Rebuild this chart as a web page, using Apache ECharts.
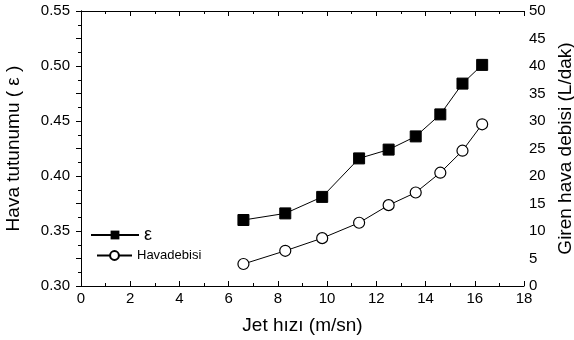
<!DOCTYPE html>
<html>
<head>
<meta charset="utf-8">
<script src="https://cdn.jsdelivr.net/npm/echarts@6/dist/echarts.min.js"></script>
<style>
  html, body { margin: 0; padding: 0; background: #fff; }
  #chart { width: 574px; height: 340px; }
</style>
</head>
<body>
<div id="chart"></div>
<script>
// jet hizi (m/sn)
const jetSpeed = [6.6, 8.3, 9.8, 11.3, 12.5, 13.6, 14.6, 15.5, 16.3];
// hava tutunumu (epsilon), left axis
const epsilon = [0.360, 0.366, 0.381, 0.416, 0.424, 0.436, 0.456, 0.484, 0.501];
// giren hava debisi (L/dak), right axis
const airFlow = [4.0, 6.4, 8.7, 11.5, 14.7, 17.0, 20.6, 24.6, 29.4];

const font = 'Liberation Sans, Arial, sans-serif';
const pair = (xs, ys) => xs.map((x, i) => [x, ys[i]]);

const chart = echarts.init(document.getElementById('chart'));
const axisLine = { lineStyle: { color: '#000', width: 1 } };
const nameStyle = { fontFamily: font, fontSize: 19, color: '#000' };
const labelStyle = { fontFamily: font, fontSize: 15, color: '#000' };

chart.setOption({
  animation: false,
  grid: { left: 81, right: 50, top: 11, bottom: 54, containLabel: false, outerBoundsMode: 'none' },
  legend: [
    {
      data: ['ε'], left: 85, top: 221, itemWidth: 48, itemHeight: 11, itemGap: 4,
      textStyle: { fontFamily: font, fontSize: 18, color: '#000' }
    },
    {
      data: ['Havadebisi'], left: 91, top: 244, itemWidth: 35, itemHeight: 11, itemGap: 4,
      textStyle: { fontFamily: font, fontSize: 13, color: '#000' }
    }
  ],
  xAxis: [
    {
      type: 'value', min: 0, max: 18, interval: 2,
      name: 'Jet hızı (m/sn)', nameLocation: 'middle', nameGap: 30,
      nameTextStyle: nameStyle,
      axisLine: axisLine,
      axisTick: { inside: true, length: 5, lineStyle: { color: '#000' } },
      minorTick: { show: true, splitNumber: 2, length: 3, lineStyle: { color: '#000' } },
      axisLabel: Object.assign({ margin: 5 }, labelStyle),
      splitLine: { show: false }
    },
    {
      type: 'value', min: 0, max: 18, interval: 2, position: 'top',
      axisLine: axisLine,
      axisTick: { inside: true, length: 5, lineStyle: { color: '#000' } },
      minorTick: { show: true, splitNumber: 2, length: 3, lineStyle: { color: '#000' } },
      axisLabel: { show: false },
      splitLine: { show: false }
    }
  ],
  yAxis: [
    {
      type: 'value', min: 0.30, max: 0.55, interval: 0.05,
      name: 'Hava tutunumu ( ε )', nameLocation: 'middle', nameGap: 58,
      nameTextStyle: nameStyle,
      axisLine: axisLine,
      axisTick: { length: 5, lineStyle: { color: '#000' } },
      minorTick: { show: true, splitNumber: 2, length: 3, lineStyle: { color: '#000' } },
      axisLabel: Object.assign({ margin: 11, formatter: v => v.toFixed(2) }, labelStyle),
      splitLine: { show: false }
    },
    {
      type: 'value', min: 0, max: 50, interval: 5, position: 'right',
      name: 'Giren hava debisi (L/dak)', nameLocation: 'middle', nameGap: 26,
      nameTextStyle: nameStyle,
      axisLine: axisLine,
      axisTick: { inside: true, length: 5, lineStyle: { color: '#000' } },
      minorTick: { show: true, splitNumber: 2, length: 3, lineStyle: { color: '#000' } },
      axisLabel: Object.assign({ margin: 5 }, labelStyle),
      splitLine: { show: false }
    }
  ],
  series: [
    {
      name: 'ε', type: 'line', yAxisIndex: 0,
      data: pair(jetSpeed, epsilon),
      symbol: 'rect', symbolSize: 11,
      itemStyle: { color: '#000', borderColor: '#000' },
      lineStyle: { color: '#000', width: 1 }
    },
    {
      name: 'Havadebisi', type: 'line', yAxisIndex: 1,
      data: pair(jetSpeed, airFlow),
      symbol: 'circle', symbolSize: 11,
      itemStyle: { color: '#fff', borderColor: '#000', borderWidth: 1.2 },
      lineStyle: { color: '#000', width: 1 }
    }
  ]
});
</script>
</body>
</html>
